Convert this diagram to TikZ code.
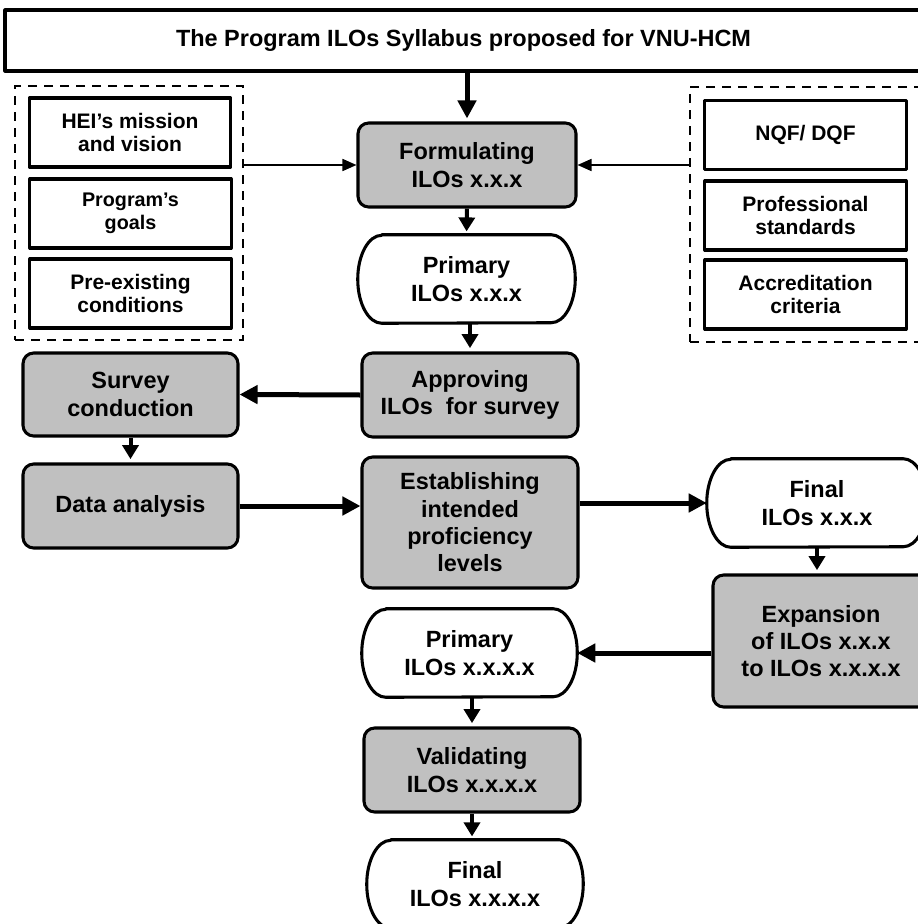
\documentclass[tikz,border=0pt]{standalone}
\usepackage{fontspec}
\setmainfont{Liberation Sans}
\usetikzlibrary{arrows.meta}
\definecolor{boxgray}{HTML}{C0C0C0}
\newcommand{\cfont}{\fontsize{17.6pt}{20.5pt}\selectfont\bfseries}
\newcommand{\sfontA}{\fontsize{15.75pt}{17.25pt}\selectfont\bfseries}
\newcommand{\sfontB}{\fontsize{14.8pt}{17pt}\selectfont\bfseries}
\newcommand{\termpath}[1]{%
  \draw[bline] ([xshift=18pt]#1.north west) -- ([xshift=-18pt]#1.north east)
    arc[start angle=90,end angle=-90,x radius=18pt,y radius=33pt]
    -- ([xshift=18pt]#1.south west)
    arc[start angle=270,end angle=90,x radius=18pt,y radius=33pt] -- cycle;}
\tikzset{
  bline/.style={line width=2.3pt, line join=round},
  titlebox/.style={draw, bline, align=center, inner sep=0pt, font=\cfont,
    minimum width=687.75pt, minimum height=45.75pt},
  dashbox/.style={draw, line width=1.8pt, dash pattern=on 6.75pt off 5.25pt, inner sep=0pt},
  sidebox/.style={draw, bline, align=center, inner sep=0pt, font=\sfontA,
    minimum width=151pt, minimum height=51.75pt},
  graybox/.style={draw, bline, fill=boxgray, rounded corners=8pt, align=center,
    inner sep=0pt, font=\cfont, minimum width=162pt, minimum height=63pt},
  termbox/.style={align=center, inner sep=0pt, font=\cfont,
    minimum width=162pt, minimum height=66pt},
  bigarrow/.style={line width=3.75pt, -{Triangle[length=13.5pt,width=13.5pt]}},
  smallarrow/.style={line width=3pt, -{Triangle[length=10.5pt,width=12pt]}, shorten >=2.5pt},
  thinarrow/.style={line width=1.25pt, -{Triangle[length=10.5pt,width=9pt]}},
}
\begin{document}
\begin{tikzpicture}[x=0.75pt,y=-0.75pt]
\useasboundingbox (0,0) rectangle (917,924);

% title
\node[titlebox] (T) at (463.5,40.5) {The Program ILOs Syllabus proposed for VNU-HCM};

% left group
\node[dashbox, minimum width=171pt, minimum height=190.5pt] (L) at (129,213) {};
\node[sidebox] (hei) at (130,132.5) {HEI’s mission\\and vision};
\node[sidebox, font=\sfontB] (pg) at (130.5,213.5) {Program’s\\goals};
\node[sidebox] (pe) at (130.5,293.5) {Pre-existing\\conditions};

% right group
\node[dashbox, minimum width=183.75pt, minimum height=191.25pt] (R) at (812.5,214.5) {};
\node[sidebox] (nqf) at (805.5,135) {NQF/ DQF};
\node[sidebox] (ps) at (805.5,215.5) {Professional\\standards};
\node[sidebox] (ac) at (805.5,294.5) {Accreditation\\criteria};

% main flow
\node[graybox, minimum width=163.5pt] (F) at (467,165) {Formulating\\ILOs x.x.x};
\node[termbox, minimum width=162.75pt] (P1) at (466.5,279) {Primary\\ILOs x.x.x};
\node[graybox] (A) at (470,395) {Approving\\ILOs\ \ for survey};
\node[graybox, minimum width=161.25pt, minimum height=62.25pt] (S) at (130.5,394.5) {Survey\\conduction};
\node[graybox, minimum width=161.25pt] (D) at (130.5,506) {Data analysis};
\node[graybox, minimum height=98.25pt] (E) at (470,522.5) {Establishing\\intended\\proficiency\\levels};
\node[termbox, minimum width=165pt] (FI) at (817,503) {Final\\ILOs x.x.x};
\node[graybox, minimum height=99pt] (X) at (821,641) {Expansion\\of ILOs x.x.x\\to ILOs x.x.x.x};
\node[termbox, minimum width=161.25pt] (P2) at (469.5,653) {Primary\\ILOs x.x.x.x};
\node[graybox] (V) at (472,770) {Validating\\ILOs x.x.x.x};
\node[termbox] (F2) at (475,884) {Final\\ILOs x.x.x.x};

\termpath{P1}
\termpath{FI}
\termpath{P2}
\termpath{F2}

% connectors
\draw[bigarrow, shorten >=2.25pt] (T.south -| F.north) -- (F.north);
\draw[thinarrow] (L.east |- F.west) -- (F.west);
\draw[thinarrow] (R.west |- F.east) -- (F.east);
\draw[smallarrow] (F.south) -- (P1.north);
\draw[smallarrow] (A.north |- P1.south) -- (A.north);
\draw[bigarrow] (A.west) -- (S.east);
\draw[smallarrow] (S.south) -- (D.north);
\draw[bigarrow] (D.east) -- (D.east -| E.west);
\draw[bigarrow] (E.east |- FI.west) -- (FI.west);
\draw[smallarrow] (FI.south) -- (FI.south |- X.north);
\draw[bigarrow] (X.west |- P2.east) -- (P2.east);
\draw[smallarrow] (V.north |- P2.south) -- (V.north);
\draw[smallarrow] (V.south) -- (V.south |- F2.north);
\end{tikzpicture}
\end{document}
